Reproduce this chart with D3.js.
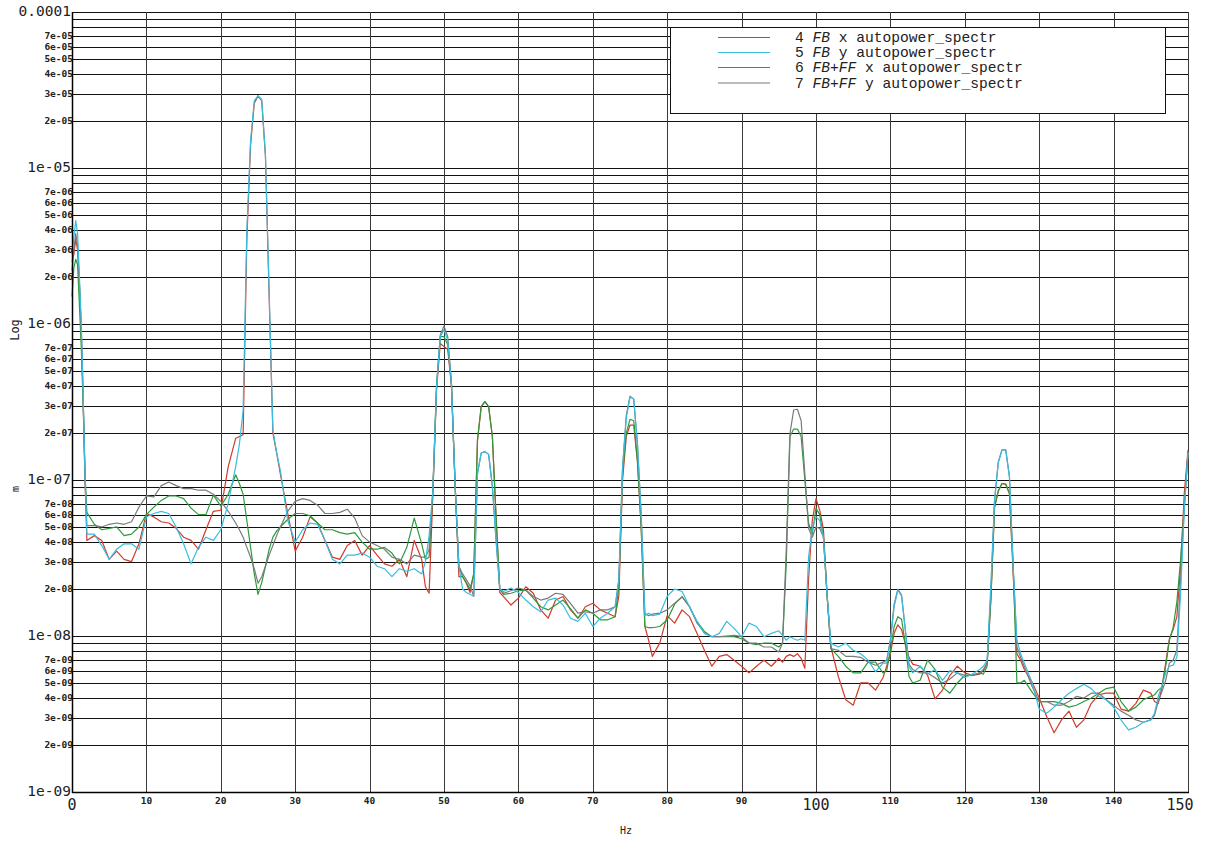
<!DOCTYPE html>
<html>
<head>
<meta charset="utf-8">
<script src="https://cdn.jsdelivr.net/npm/d3@7"></script>
<style>
  html, body { margin: 0; padding: 0; background: white; }
  #visualization { width: 1208px; height: 841px; }
</style>
</head>
<body>
<div id="visualization"></div>
<script>
// frequency grid (Hz), shared by all four spectra
const freqHz = [
  0, 0.25, 0.5, 0.75, 1, 1.25, 1.5, 1.75,
  2, 3, 4, 5, 6, 7, 8, 9, 10, 11, 12, 13, 14, 15, 16, 17, 18, 19, 20, 21, 22,
  22.5, 23, 23.5, 24, 24.5, 25, 25.5, 26, 26.5, 27, 27.5, 28,
  29, 30, 31, 32, 33, 34, 35, 36, 37, 38, 39, 40, 41, 42, 43, 44, 45, 46, 47,
  47.5, 48, 48.5, 49, 49.5, 50, 50.5, 51, 51.5, 52, 52.5, 53, 53.5, 54, 54.5, 55, 55.5, 56, 56.5, 57, 57.5, 58,
  59, 60, 61, 62, 63, 64, 65, 66, 67, 68, 69, 70, 71, 72, 73,
  73.5, 74, 74.5, 75, 75.5, 76, 76.5, 77, 77.5, 78,
  79, 80, 81, 82, 83, 84, 85, 86, 87, 88, 89, 90, 91, 92, 93, 94, 95,
  95.5, 96, 96.5, 97, 97.5, 98, 98.5, 99, 99.5, 100, 100.5, 101, 101.5, 102,
  103, 104, 105, 106, 107, 108, 109,
  109.5, 110, 110.5, 111, 111.5, 112, 112.5, 113,
  114, 115, 116, 117, 118, 119, 120, 121, 122,
  122.5, 123, 123.5, 124, 124.5, 125, 125.5, 126, 126.5, 127, 127.5, 128,
  129, 130, 131, 132, 133, 134, 135, 136, 137, 138, 139, 140, 141, 142, 143, 144, 145,
  145.5, 146, 146.5, 147, 147.5, 148, 148.5, 149, 149.5, 150
];

// spectra values, in units of 1e-9 m
const fbX = [
  2500, 2800, 3500, 3000, 1800, 900, 330, 100,
  41, 44, 41, 31, 35, 31, 30, 39, 61, 58, 54, 53, 49, 43, 41, 36, 48, 63, 64, 122, 185,
  190, 195, 3500, 14000, 26000, 29000, 27000, 12000, 1500, 200, 150, 110,
  61, 35, 43, 58, 53, 41, 32, 31, 38, 41, 33, 38, 33, 29, 28, 31, 24, 41, 31,
  20.7, 18.8, 80, 380, 750, 716, 690, 400, 91, 24, 24, 21.8, 19, 25, 180, 295, 318, 295, 190, 58, 19, 17.9,
  15.8, 17.5, 20.7, 18.8, 14.7, 13, 17, 17.9, 14.7, 13, 15.4, 16.2, 14.7, 14, 13.3,
  18, 100, 190, 225, 225, 130, 50, 11.5, 9.4, 7.4,
  9.0, 13.5, 12.1, 14.7, 13.3, 10.4, 8.1, 6.4, 7.4, 7.6, 7.0, 6.4, 5.8, 6.4, 7.0, 6.4, 7.2,
  6.8, 7.4, 7.6, 7.4, 7.7, 7.2, 6.2, 23, 55, 76, 64, 48, 18, 8.5,
  5.5, 3.9, 3.6, 5.0, 5.0, 4.5, 5.4,
  6.4, 7.7, 10.4, 11.8, 11.0, 8.9, 7.3, 6.6,
  6.4, 5.6, 3.95, 4.5, 5.6, 6.4, 5.8, 5.6, 5.7,
  6.0, 6.7, 17, 67, 85, 95, 94, 82, 25, 7.7, 7.0, 6.1,
  5.1, 4.0, 3.05, 2.4, 2.9, 3.3, 2.6, 2.9, 3.7, 4.2, 4.3, 4.3, 3.4, 3.3, 3.7, 4.5, 4.3,
  3.8, 3.7, 4.7, 6.7, 9.6, 11, 13.3, 27.8, 82, 156
];

const fbY = [
  2800, 3600, 4600, 3800, 2000, 1000, 350, 110,
  45, 45, 38, 31, 36, 39, 39, 36, 58, 61, 63, 61, 50, 39, 29, 37, 43, 41, 48, 71, 122,
  170, 280, 4000, 15000, 27000, 29000, 27500, 12000, 1600, 210, 150, 115,
  55, 40, 48, 53, 52, 41, 31, 29, 33, 33, 34, 32, 28, 27, 24, 27, 26, 27, 25,
  30, 44, 85, 400, 830, 917, 790, 416, 91, 28, 20, 19, 18.5, 18, 110, 149, 152, 146, 91, 41, 20, 19.3,
  20.3, 19, 17, 15.4, 14.3, 17, 17.5, 15.8, 13, 12.4, 14, 11.5, 13, 14, 15.4,
  23, 120, 250, 340, 330, 170, 60, 13.5, 14, 13.5,
  13.8, 18, 20, 19.3, 15.4, 12.4, 10.4, 9.9, 10.4, 12.4, 11.2, 9.9, 12.1, 11.5, 9.9, 10.4, 10.8,
  10.1, 9.4, 9.9, 9.6, 9.4, 9.6, 9.4, 32, 49, 58, 55, 43, 18, 9.0,
  8.5, 9.0, 8.1, 7.7, 7.0, 5.9, 6.7,
  6.7, 9.4, 15.4, 19.7, 18, 11, 6.4, 5.8,
  6.4, 5.7, 6.1, 5.2, 6.0, 5.8, 5.4, 5.7, 6.1,
  6.4, 7.0, 21, 74, 130, 156, 156, 105, 28, 9.4, 7.7, 6.7,
  5.1, 3.4, 3.2, 3.5, 3.9, 4.3, 4.6, 4.9, 4.6, 4.1, 3.9, 3.5, 2.9, 2.5, 2.6, 2.8, 2.9,
  3.2, 4.1, 4.8, 5.8, 6.4, 6.5, 7.3, 18.5, 65, 150
];

const fbffX = [
  1500, 2300, 2600, 2400, 1300, 700, 300, 110,
  62, 52, 48, 49, 50, 44, 45, 50, 60, 67, 74, 79, 79, 76, 66, 60, 60, 80, 68, 81, 108,
  95, 81, 55, 37, 25, 18.5, 22, 28, 36, 43, 47, 50,
  56, 61, 61, 59, 53, 48, 48, 46, 45, 46, 40, 36, 36, 37, 34, 29, 37, 57, 39,
  31, 32, 85, 400, 830, 830, 740, 416, 91, 28, 24, 22, 20, 25, 180, 295, 318, 295, 190, 58, 20, 18.5,
  18.8, 19.5, 19.7, 17.5, 15.4, 14.7, 15.8, 17, 15, 13, 14.7, 14, 12.7, 12.7, 13.3,
  21, 110, 200, 245, 240, 135, 50, 11.5, 11.3, 11.3,
  11.5, 12.7, 16, 17.9, 15.4, 12.4, 10.7, 9.9, 9.9, 9.9, 9.9, 9.6, 9.0, 8.8, 9.0, 9.0, 8.5,
  9.0, 29, 190, 212, 212, 190, 100, 53, 45, 66, 60, 43, 18, 8.3,
  7.4, 6.4, 5.8, 5.8, 6.8, 6.8, 5.8,
  6.0, 8.1, 11.5, 13.3, 12.8, 8.9, 5.5, 5.0,
  5.2, 7.0, 6.1, 4.7, 4.3, 5.0, 5.6, 5.6, 5.8,
  5.7, 6.4, 17, 67, 85, 95, 94, 82, 28, 5.0, 5.0, 5.2,
  4.4, 3.8, 3.8, 3.8, 3.7, 3.5, 3.6, 3.8, 4.0, 4.3, 4.6, 4.7, 3.8, 3.3, 3.5, 3.9, 4.1,
  4.2, 4.5, 4.7, 6.4, 9.4, 11.3, 16.5, 30.5, 67, 150
];

const fbffY = [
  2200, 3000, 3800, 3200, 1800, 900, 330, 100,
  51, 51, 50, 52, 53, 52, 54, 67, 79, 78, 92, 97, 92, 88, 88, 86, 86, 81, 73, 63, 53,
  48, 43, 37, 32, 27, 21.8, 24, 28, 33, 38, 44, 50,
  63, 73, 76, 74, 69, 61, 61, 62, 65, 57, 44, 40, 38, 36, 32, 31, 29, 33, 32,
  32, 36, 85, 400, 850, 971, 830, 416, 91, 28, 25, 23, 21, 18, 110, 149, 152, 146, 91, 41, 20, 18.8,
  19.5, 20.3, 19.7, 17.9, 17, 17.5, 18.8, 18.5, 16.2, 14, 14.3, 14, 14.7, 14.7, 15.4,
  23, 120, 260, 345, 330, 170, 60, 14, 13.5, 13.8,
  14, 14.7, 16.2, 17.8, 15.4, 12.1, 10.5, 9.9, 9.9, 10, 10.1, 9.9, 9.0, 9.0, 8.5, 8.5, 7.9,
  9.0, 35, 199, 281, 284, 240, 110, 49, 43, 50, 49, 43, 18, 8.3,
  8.1, 7.4, 7.4, 7.3, 6.8, 6.5, 6.8,
  7.0, 9.4, 16, 20, 18.3, 11, 6.6, 6.1,
  5.8, 5.8, 5.4, 5.0, 5.3, 5.8, 5.6, 5.6, 5.8,
  6.1, 6.7, 19, 74, 130, 156, 156, 105, 28, 8.5, 7.3, 6.4,
  4.8, 3.8, 3.8, 3.6, 3.6, 3.8, 4.1, 4.0, 4.3, 4.3, 3.9, 3.6, 3.3, 3.1, 2.9, 2.8, 2.9,
  3.1, 3.8, 4.4, 5.2, 6.7, 7.0, 8.1, 22.7, 67, 150
];

const seriesNames = [
  '4 FB x autopower_spectr',
  '5 FB y autopower_spectr',
  '6 FB+FF x autopower_spectr',
  '7 FB+FF y autopower_spectr'
];

// tick labels
const xTicks = [0, 10, 20, 30, 40, 50, 60, 70, 80, 90, 100, 110, 120, 130, 140, 150];
const xBigTicks = [0, 100, 150];
const yDecades = [-9, -8, -7, -6, -5, -4];
const yMultipliers = [1, 2, 3, 4, 5, 6, 7, 8, 9];
const yLabelledMultipliers = [2, 3, 4, 5, 6, 7];

const UNIT = 1e-9;

const chart = {
  width: 1208,
  height: 841,
  plotLeft: 72,
  plotRight: 1188,
  plotTop: 12,
  plotBottom: 792,
  colors: ['#d13b2b', '#38bcdf', '#2c9b3c', '#7a7a7a'],
  drawOrder: [0, 2, 3, 1],
  mono: '"DejaVu Sans Mono", "Liberation Mono", monospace',

  init() {
    this.svg = d3.select('#visualization').append('svg')
      .attr('width', this.width)
      .attr('height', this.height)
      .style('background', 'white');

    this.x = d3.scaleLinear().domain([0, 150]).range([this.plotLeft, this.plotRight]);
    this.y = d3.scaleLog().domain([1e-9, 1e-4]).range([this.plotBottom, this.plotTop]);

    this.drawGrid();
    this.drawSeries();
    this.drawAxes();
    this.drawLegend();
  },

  gridValues() {
    const values = [];
    for (const e of yDecades) {
      for (const m of yMultipliers) {
        const v = m * Math.pow(10, e);
        if (v <= 1.0001e-4) {
          values.push({ v, m, e });
        }
      }
    }
    return values;
  },

  drawGrid() {
    const grid = this.svg.append('g');

    grid.selectAll('line.h')
      .data(this.gridValues())
      .join('line')
      .attr('class', 'h')
      .attr('x1', this.plotLeft)
      .attr('x2', this.plotRight)
      .attr('y1', (d) => Math.round(this.y(d.v)) + 0.5)
      .attr('y2', (d) => Math.round(this.y(d.v)) + 0.5)
      .attr('stroke', '#111')
      .attr('stroke-width', 1);

    grid.selectAll('line.v')
      .data(xTicks)
      .join('line')
      .attr('class', 'v')
      .attr('x1', (d) => Math.round(this.x(d)) + 0.5)
      .attr('x2', (d) => Math.round(this.x(d)) + 0.5)
      .attr('y1', this.plotTop)
      .attr('y2', this.plotBottom)
      .attr('stroke', '#3a3a3a')
      .attr('stroke-width', 1);
  },

  drawSeries() {
    const all = [fbX, fbY, fbffX, fbffY];
    const line = d3.line()
      .x((d) => this.x(d[0]))
      .y((d) => this.y(d[1] * UNIT));

    for (const i of this.drawOrder) {
      const points = freqHz.map((f, k) => [f, all[i][k]]);
      this.svg.append('path')
        .datum(points)
        .attr('fill', 'none')
        .attr('stroke', this.colors[i])
        .attr('stroke-width', 1.2)
        .attr('stroke-linejoin', 'round')
        .attr('d', line);
    }
  },

  majorLabel(e) {
    if (e === -4) {
      return '0.0001';
    }
    return `1e-${String(-e).padStart(2, '0')}`;
  },

  drawAxes() {
    const axes = this.svg.append('g');

    // axis frame (left and bottom)
    axes.append('line')
      .attr('x1', this.plotLeft + 0.5).attr('x2', this.plotLeft + 0.5)
      .attr('y1', this.plotTop).attr('y2', this.plotBottom + 1)
      .attr('stroke', '#000').attr('stroke-width', 1.5);
    axes.append('line')
      .attr('x1', this.plotLeft).attr('x2', this.plotRight + 1)
      .attr('y1', this.plotBottom + 0.5).attr('y2', this.plotBottom + 0.5)
      .attr('stroke', '#000').attr('stroke-width', 1.5);

    // y labels
    const yAxis = axes.append('g').attr('font-family', this.mono).attr('fill', '#222');
    for (const e of yDecades) {
      yAxis.append('text')
        .attr('x', this.plotLeft - 1)
        .attr('y', this.y(Math.pow(10, e)))
        .attr('dy', '0.3em')
        .attr('text-anchor', 'end')
        .attr('font-size', 14.5)
        .text(this.majorLabel(e));
      if (e === -4) {
        continue;
      }
      for (const m of yLabelledMultipliers) {
        yAxis.append('text')
          .attr('x', this.plotLeft + 1)
          .attr('y', this.y(m * Math.pow(10, e)))
          .attr('dy', '0.35em')
          .attr('text-anchor', 'end')
          .attr('font-size', 9.5)
          .attr('font-weight', 'bold')
          .text(`${m}e-${String(-e).padStart(2, '0')}`);
      }
    }

    // x labels
    const xAxis = axes.append('g').attr('font-family', this.mono).attr('fill', '#222');
    for (const t of xTicks) {
      const big = xBigTicks.includes(t);
      xAxis.append('text')
        .attr('x', this.x(t) + (t === 150 ? -8 : 0))
        .attr('y', this.plotBottom + (big ? 18 : 12))
        .attr('text-anchor', 'middle')
        .attr('font-size', big ? 15 : 9.5)
        .attr('font-weight', big ? 'normal' : 'bold')
        .text(t);
    }

    // axis titles
    axes.append('text')
      .attr('transform', 'translate(19,330) rotate(-90)')
      .attr('text-anchor', 'middle')
      .attr('font-family', this.mono)
      .attr('font-size', 12)
      .attr('fill', '#222')
      .text('Log');
    axes.append('text')
      .attr('transform', 'translate(19,489) rotate(-90)')
      .attr('text-anchor', 'middle')
      .attr('font-family', this.mono)
      .attr('font-size', 10)
      .attr('fill', '#222')
      .text('m');
    axes.append('text')
      .attr('x', 626)
      .attr('y', 834)
      .attr('text-anchor', 'middle')
      .attr('font-family', this.mono)
      .attr('font-size', 10)
      .attr('fill', '#222')
      .text('Hz');
  },

  drawLegend() {
    const legend = this.svg.append('g');
    legend.append('rect')
      .attr('x', 670.5).attr('y', 27.5)
      .attr('width', 495).attr('height', 86)
      .attr('fill', 'white')
      .attr('stroke', '#111')
      .attr('stroke-width', 1);

    const rowY = [37.5, 52.5, 67.5, 83];
    seriesNames.forEach((name, i) => {
      legend.append('line')
        .attr('x1', 718).attr('x2', 770)
        .attr('y1', rowY[i]).attr('y2', rowY[i])
        .attr('stroke', this.colors[i])
        .attr('stroke-width', 1.2);

      const parts = name.split(' ');
      const text = legend.append('text')
        .attr('x', 795)
        .attr('y', rowY[i])
        .attr('dy', '0.32em')
        .attr('font-family', '"Liberation Mono", "DejaVu Sans Mono", monospace')
        .attr('font-size', 14.6)
        .attr('fill', '#222')
        .attr('xml:space', 'preserve');
      parts.forEach((p, k) => {
        text.append('tspan')
          .attr('font-style', k === 1 ? 'italic' : 'normal')
          .text((k > 0 ? ' ' : '') + p);
      });
    });
  }
};

chart.init();
</script>
</body>
</html>
